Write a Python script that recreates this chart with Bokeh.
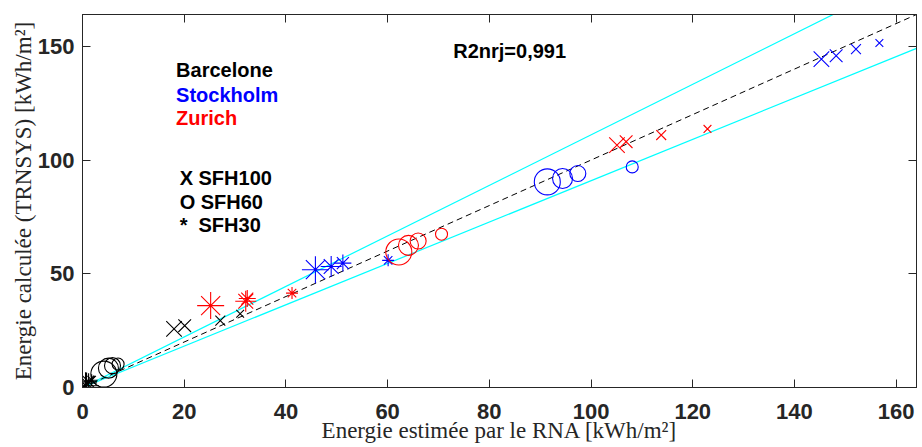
from bokeh.plotting import figure
from bokeh.models import (Range1d, LinearAxis, Label, FixedTicker, ColumnDataSource,
                          CustomLabelingPolicy)
from bokeh.embed import file_html
from bokeh.resources import INLINE

# ---------------- data (kWh/m²) : estimated by ANN (x) vs computed by TRNSYS (y)
cities = ["Barcelone", "Stockholm", "Zurich"]
buildings = ["SFH100", "SFH60", "SFH30"]

barcelone_sfh100_est = [18.0, 20.1, 27.1, 31.0]
barcelone_sfh100_calc = [25.8, 27.2, 29.4, 32.4]
barcelone_sfh60_est = [4.2, 5.1, 5.9, 7.0]
barcelone_sfh60_calc = [5.9, 8.5, 9.6, 10.3]
barcelone_sfh30_est = [0.6, 0.8, 1.2, 1.8]
barcelone_sfh30_calc = [0.8, 2.0, 2.5, 3.2]

stockholm_sfh100_est = [145.3, 148.2, 152.1, 156.7]
stockholm_sfh100_calc = [144.4, 145.9, 148.8, 151.5]
stockholm_sfh60_est = [91.4, 94.4, 97.4, 108.1]
stockholm_sfh60_calc = [90.4, 91.9, 94.1, 97.0]
stockholm_sfh30_est = [45.8, 48.9, 51.2, 60.1]
stockholm_sfh30_calc = [51.8, 53.2, 54.7, 55.9]

zurich_sfh100_est = [105.1, 106.9, 113.8, 122.9]
zurich_sfh100_calc = [106.6, 108.1, 111.0, 113.7]
zurich_sfh60_est = [62.2, 64.1, 66.0, 70.6]
zurich_sfh60_calc = [59.6, 62.5, 64.4, 67.4]
zurich_sfh30_est = [25.2, 32.1, 32.4, 41.2]
zurich_sfh30_calc = [36.0, 37.9, 39.1, 41.5]

x_ticks = [0, 20, 40, 60, 80, 100, 120, 140, 160]
y_ticks = [0, 50, 100, 150]
axis_max = 164
identity_slope = 1.0
band_slopes = [1 / 0.9, 1 / 1.1]
r2_label = "R2nrj=0,991"
legend_labels = ["X SFH100", "O SFH60", "*\u00a0\u00a0SFH30"]

# ---------------- styles
city_colors = {"Barcelone": "#000000", "Stockholm": "#0000FF", "Zurich": "#FF0000"}
building_markers = {"SFH100": "x", "SFH60": "circle", "SFH30": "asterisk"}
marker_sizes = {"SFH100": [22, 18, 14, 11],
                "SFH60": [26, 20, 16, 12],
                "SFH30": [27, 21, 17, 12]}
AX = "#262626"
SANS = "Liberation Sans"
SERIF = "Liberation Serif"

data = {
    ("Barcelone", "SFH100"): (barcelone_sfh100_est, barcelone_sfh100_calc),
    ("Barcelone", "SFH60"): (barcelone_sfh60_est, barcelone_sfh60_calc),
    ("Barcelone", "SFH30"): (barcelone_sfh30_est, barcelone_sfh30_calc),
    ("Stockholm", "SFH100"): (stockholm_sfh100_est, stockholm_sfh100_calc),
    ("Stockholm", "SFH60"): (stockholm_sfh60_est, stockholm_sfh60_calc),
    ("Stockholm", "SFH30"): (stockholm_sfh30_est, stockholm_sfh30_calc),
    ("Zurich", "SFH100"): (zurich_sfh100_est, zurich_sfh100_calc),
    ("Zurich", "SFH60"): (zurich_sfh60_est, zurich_sfh60_calc),
    ("Zurich", "SFH30"): (zurich_sfh30_est, zurich_sfh30_calc),
}

p = figure(width=922, height=447,
           x_range=Range1d(0, axis_max), y_range=Range1d(0, axis_max),
           output_backend="svg", toolbar_location=None,
           min_border_left=82, min_border_top=14, min_border_right=0, min_border_bottom=60)
p.xgrid.visible = False
p.ygrid.visible = False
p.outline_line_color = AX
p.background_fill_color = "white"
p.border_fill_color = "white"

# reference lines
line_x = [0, axis_max]
for s in band_slopes:
    p.line(line_x, [v * s for v in line_x], line_color="#00FFFF", line_width=1.2)
p.line(line_x, [v * identity_slope for v in line_x], line_color="#000000",
       line_width=1, line_dash="6 4")

# points
for (city, bld), (xs, ys) in data.items():
    src = ColumnDataSource(dict(x=xs, y=ys, size=marker_sizes[bld]))
    p.scatter("x", "y", source=src, size="size", marker=building_markers[bld],
              line_color=city_colors[city], fill_color=None, line_width=1.1)

# axes
no_labels = CustomLabelingPolicy(code="for (const i of indices) { indices.unset(i) } return indices")

def style_axis(ax, ticks, labels=True):
    ax.ticker = FixedTicker(ticks=ticks)
    ax.minor_tick_line_color = None
    ax.major_tick_in = 8
    ax.major_tick_out = 0
    ax.axis_line_color = AX
    ax.major_tick_line_color = AX
    if labels:
        ax.major_label_text_font = SANS
        ax.major_label_text_font_style = "bold"
        ax.major_label_text_font_size = "22px"
        ax.major_label_text_color = AX
        ax.axis_label_text_font = SERIF
        ax.axis_label_text_font_style = "normal"
        ax.axis_label_text_font_size = "23px"
        ax.axis_label_text_color = AX
    else:
        ax.major_label_policy = no_labels
        ax.major_label_text_font_size = "2px"
        ax.major_label_standoff = 0

style_axis(p.xaxis[0], x_ticks)
style_axis(p.yaxis[0], y_ticks)
p.xaxis[0].axis_label = "Energie estimée par le RNA [kWh/m²]"
p.yaxis[0].axis_label = "Energie calculée (TRNSYS) [kWh/m²]"
p.xaxis[0].major_label_standoff = 16
p.xaxis[0].axis_label_standoff = -4
p.yaxis[0].major_label_standoff = 8
p.yaxis[0].axis_label_standoff = -1

top_ax = LinearAxis()
style_axis(top_ax, x_ticks, labels=False)
p.add_layout(top_ax, "above")
right_ax = LinearAxis()
style_axis(right_ax, y_ticks, labels=False)
p.add_layout(right_ax, "right")

# annotations
def add_text(x, y, text, color="#000000", size="20px"):
    p.add_layout(Label(x=x, y=y, text=text, text_color=color, text_font=SANS,
                       text_font_style="bold", text_font_size=size,
                       text_align="left", text_baseline="middle"))

for city, yy in zip(cities, [139.7, 128.5, 118.5]):
    add_text(18.4, yy, city, city_colors[city])
for lbl, yy in zip(legend_labels, [92.1, 81.6, 71.3]):
    add_text(19.1, yy, lbl)
add_text(72.9, 147.8, r2_label)

open("out.html", "w").write(file_html(p, INLINE))
